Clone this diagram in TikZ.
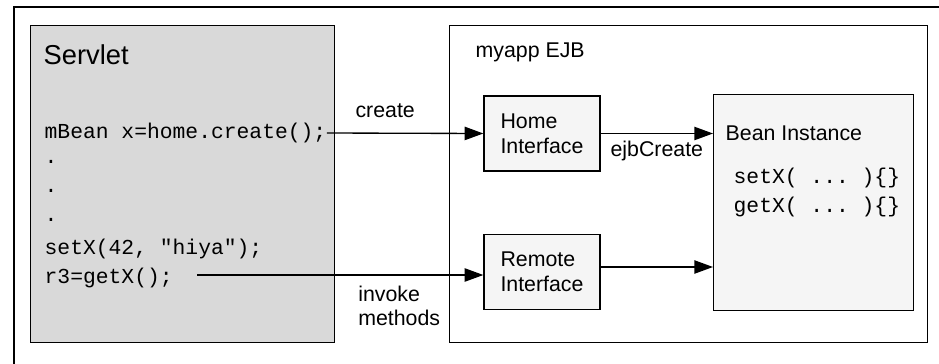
\documentclass[tikz,border=0pt]{standalone}
\usepackage{fontspec}
\setmainfont{Liberation Sans}
\setmonofont{Liberation Mono}
\usetikzlibrary{arrows.meta}
\definecolor{servletgray}{HTML}{D9D9D9}
\definecolor{boxgray}{HTML}{F5F5F5}
\begin{document}
\begin{tikzpicture}[x=0.75pt, y=-0.75pt, line width=1pt, >={Triangle[length=14pt,width=10pt]},
big box/.style={draw, rectangle, anchor=north west, inner sep=0pt},
iface node/.style={draw, fill=boxgray, minimum width=87pt, minimum height=56.25pt, align=left, font=\fontsize{16}{18.75}\selectfont},
code line/.style={anchor=west, inner sep=0pt, font=\ttfamily\fontsize{16}{18}\selectfont},
label text/.style={font=\fontsize{16}{18}\selectfont, align=left}]
\useasboundingbox (0,0) rectangle (939,364);
\draw (14,364) -- (14,7) -- (939,7);%frame
\begin{scope}
\node[big box, fill=servletgray, minimum width=228pt, minimum height=237.75pt] (servlet) at (30,25) {};
\node[big box, fill=white, minimum width=358.5pt, minimum height=237.75pt] (ejb) at (449,25) {};
\node[big box, fill=boxgray, minimum width=150pt, minimum height=162pt] (bean) at (713,94) {};
\node[iface node] (home) at (542,133.5) {Home\\Interface};
\node[iface node] (remote) at (542,272) {Remote\\Interface};
\end{scope}
\begin{scope}[every node/.style={anchor=west, inner sep=0pt}]
\node[font=\fontsize{20.5}{22}\selectfont] (stitle) at (43,55) {Servlet};
\node[font=\fontsize{16}{18}\selectfont] (etitle) at (475,52) {myapp EJB};
\node[font=\fontsize{16}{18}\selectfont] (btitle) at (725,133) {Bean Instance};
\end{scope}
\node[code line] (c1) at (44,133) {mBean x=home.create();};
\node[code line] (c2) at (44,162) {.};
\node[code line] (c3) at (44,191) {.};
\node[code line] (c4) at (44,220) {.};
\node[code line] (c5) at (44,249) {setX(42, "hiya");};
\node[code line] (c6) at (44,278) {r3=getX();};
\node[code line] (m1) at (733,178) {setX( ... )\{\}};
\node[code line] (m2) at (733,207) {getX( ... )\{\}};
\coordinate (inv) at (197,275);
\begin{scope}
\draw[->] (c1.east) -- node[label text, pos=0.15, above right, yshift=8pt]{create} (home.west);
\draw[->] (inv) -- node[label text, pos=0.547, below right, inner sep=3pt, yshift=-4.5pt]{invoke\\methods} (inv -| remote.west);
\draw[->] (home.east) -- node[label text, below, yshift=-2pt]{ejbCreate} (home.east -| bean.west);
\draw[->] ([yshift=3.75pt]remote.east) -- ([yshift=3.75pt]remote.east -| bean.west);
\end{scope}
\end{tikzpicture}
\end{document}
